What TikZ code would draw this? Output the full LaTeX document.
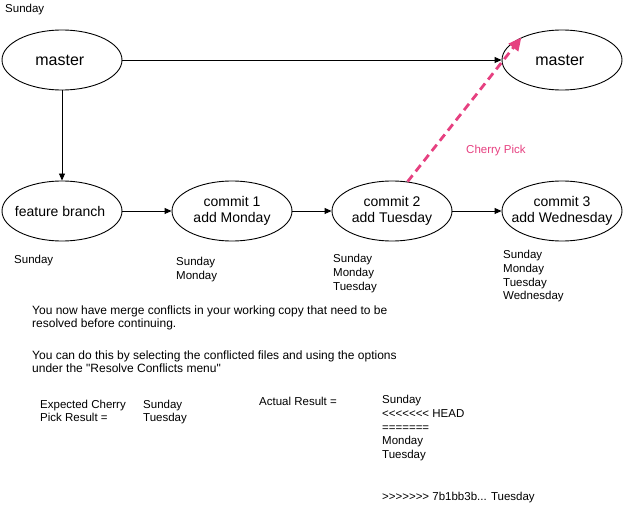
\documentclass[tikz,border=0pt]{standalone}
\usepackage{fontspec}
\setmainfont{Liberation Sans}
\newfontfamily\codefont{Liberation Sans}
\usepackage{tikz}
\usetikzlibrary{arrows.meta,shapes.geometric}
\definecolor{cherry}{RGB}{230,64,128}

\begin{document}
\begin{tikzpicture}[x=1pt,y=-1pt,
    branch/.style={draw,ellipse,line width=0.9pt,minimum width=120pt,minimum height=60pt,inner sep=-12pt,align=center,font=\fontsize{14}{16}\selectfont},
    days/.style={anchor=north west,inner sep=0pt,align=left,font=\fontsize{11.5}{13.8}\selectfont},
    link/.style={line width=0.9pt,-{Triangle[length=7pt,width=6pt]}}]

    \useasboundingbox (0,0) rectangle (625,521);

    \node [branch,font=\fontsize{16}{19}\selectfont] (master) at (62,60) { master };
    \node [branch,font=\fontsize{16}{19}\selectfont] (master2) at (562,60) { master };
    \node [branch] (feature) at (62,211) { feature branch };
    \node [branch] (c1) at (232,211) { commit 1\\add Monday };
    \node [branch] (c2) at (392,211) { commit 2\\add Tuesday };
    \node [branch] (c3) at (562,211) { commit 3\\add Wednesday };

    \draw [link] (master) -- (master2);
    \draw [link] (master) -- (feature);
    \draw [link] (feature) -- (c1);
    \draw [link] (c1) -- (c2);
    \draw [link] (c2) -- (c3);

    % cherry pick of commit 2 onto master
    \draw [cherry,line width=2.8pt,dash pattern=on 8pt off 5pt,-{Triangle[length=13pt,width=12pt]}] (c2.62) -- (master2.151);
    \node [days,text=cherry] (pick) at (466,145) { Cherry Pick };

    \node [days] (sun0) at (5,4) { Sunday };
    \node [days] (sun1) at (14,255) { Sunday };
    \node [days] (list1) at (176,257) { Sunday\\Monday };
    \node [days] (list2) at (333,254) { Sunday\\Monday\\Tuesday };
    \node [days] (list3) at (503,250) { Sunday\\Monday\\Tuesday\\Wednesday };

    \node [days,font=\fontsize{12}{13}\selectfont] (note1) at (32,306) { You now have merge conflicts in your working copy that need to be\\resolved before continuing. };
    \node [days,font=\codefont\fontsize{12}{13}\selectfont] (note2) at (32,351) { You can do this by selecting the conflicted files and using the options\\under the "Resolve Conflicts menu" };

    \node [days,font=\fontsize{11.5}{12.5}\selectfont] (expect) at (40,400) { Expected Cherry\\Pick Result = };
    \node [days,font=\fontsize{11.5}{12.5}\selectfont] (expect2) at (143,400) { Sunday\\Tuesday };
    \node [days] (actual) at (259,397) { Actual Result = };
    \node [days,font=\codefont\fontsize{11.5}{13.8}\selectfont] (actual2) at (382,395) { Sunday\\<<<<<<< HEAD\\=======\\Monday\\Tuesday\\[27.6pt]>>>>>>> 7b1bb3b... Tuesday };

\end{tikzpicture}
\end{document}
